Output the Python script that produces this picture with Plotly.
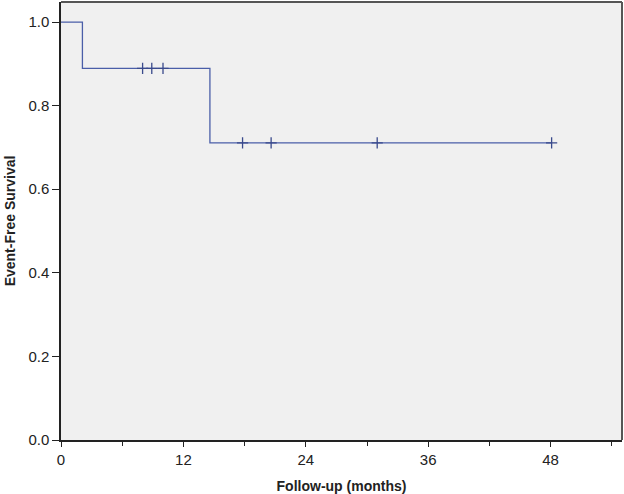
import plotly.graph_objects as go

# Kaplan-Meier step curve (months, survival)
tiempo = [0, 2.1, 2.1, 14.6, 14.6, 48.1]
supervivencia = [1.0, 1.0, 0.889, 0.889, 0.711, 0.711]

# censored observations
censura_t = [8.0, 8.9, 10.0, 17.8, 20.6, 31.0, 48.1]
censura_s = [0.889, 0.889, 0.889, 0.711, 0.711, 0.711, 0.711]

x_ticks = [0, 12, 24, 36, 48]
y_ticks = [0.0, 0.2, 0.4, 0.6, 0.8, 1.0]

azul = "#4a5ea8"

fig = go.Figure()
fig.add_trace(go.Scatter(
    x=tiempo, y=supervivencia, mode="lines",
    line=dict(color=azul, width=1.3), showlegend=False,
))
fig.add_trace(go.Scatter(
    x=censura_t, y=censura_s, mode="markers",
    marker=dict(symbol="cross-thin", size=8, line=dict(color="#3a4a8c", width=1.3)),
    showlegend=False,
))

fig.update_layout(
    width=624, height=494,
    margin=dict(l=61, r=2, t=2, b=54),
    paper_bgcolor="white",
    plot_bgcolor="#f0f0f0",
    font=dict(family="Arial, Liberation Sans", size=15, color="#222"),
    xaxis=dict(
        range=[0, 55], tickvals=x_ticks, ticks="outside", ticklen=5,
        tickcolor="#222", showgrid=False, zeroline=False, automargin=False,
        showline=True, linecolor="#222", linewidth=1.5, mirror=False,
        minor=dict(dtick=6, tick0=0, ticks="outside", ticklen=4, tickcolor="#222"),
        title=dict(text="<b>Follow-up (months)</b>", font=dict(size=14), standoff=14),
    ),
    yaxis=dict(
        range=[0, 1.048], tickvals=y_ticks, tickformat=".1f", ticks="outside",
        ticklen=7, tickcolor="#222", showgrid=False, zeroline=False, automargin=False,
        showline=True, linecolor="#222", linewidth=1.5,
        title=dict(text="<b>Event-Free Survival</b>", font=dict(size=14), standoff=9),
    ),
    shapes=[
        dict(type="line", xref="paper", yref="paper", x0=0, x1=1, y0=1, y1=1,
             line=dict(color="#555", width=2)),
        dict(type="line", xref="paper", yref="paper", x0=1, x1=1, y0=0, y1=1,
             line=dict(color="#555", width=2)),
    ],
)

fig.write_html("out.html", config={"displayModeBar": False},
               post_script="document.body.style.margin='0';")
